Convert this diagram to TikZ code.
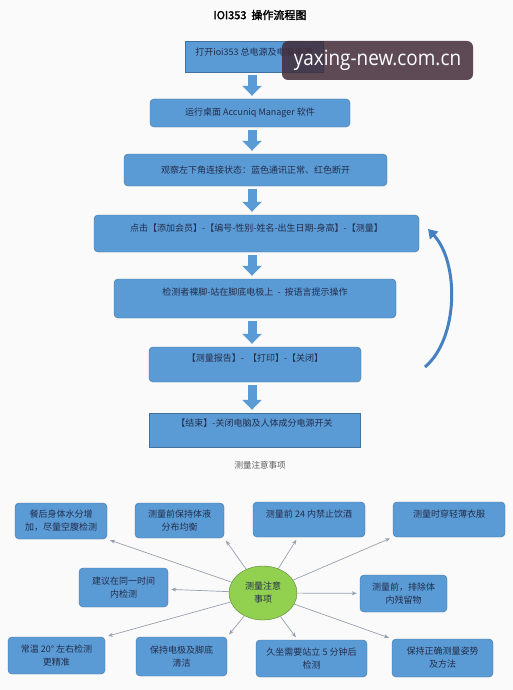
\documentclass[tikz,border=0pt]{standalone}
\usepackage{fontspec}
\setmainfont{Noto Sans CJK SC}[AutoFakeBold=2]
\newfontfamily\wmfont{Open Sans}[FakeStretch=0.9]
\usetikzlibrary{arrows.meta}
\usetikzlibrary{shapes.geometric}

\definecolor{paper}{RGB}{251,250,250}
\definecolor{boxblue}{RGB}{91,155,213}
\definecolor{boxedge}{RGB}{65,113,156}
\definecolor{loopblue}{RGB}{70,130,195}
\definecolor{txtnavy}{RGB}{35,45,75}
\definecolor{notegreen}{RGB}{146,208,80}
\definecolor{greenedge}{RGB}{84,130,53}
\definecolor{linkgray}{RGB}{150,160,175}
\definecolor{wmplum}{RGB}{66,44,56}

\begin{document}
\begin{tikzpicture}[x=1pt, y=-1pt,
  flowbox/.style={draw=boxedge, fill=boxblue, rounded corners=4pt, text=txtnavy, inner sep=2pt,
                  font=\fontsize{9}{12}\selectfont},
  notebox/.style={flowbox, align=center, font=\fontsize{9}{13}\selectfont},
  lift/.style={text depth=#1},
  flowarrow/.style={draw=boxblue, line width=9pt, -{Triangle[width=19pt,length=10pt]},
                    shorten <=3pt, shorten >=3pt},
  loopback/.style={draw=loopblue, line width=3pt, -{Triangle[width=11pt,length=9pt]}},
  notelink/.style={draw=linkgray, line width=0.7pt, -{Stealth[length=5pt,width=4pt]}, shorten >=3pt}]
\path [use as bounding box, fill=paper] (0,0) rectangle (513,690);

% flow chart
\node (title) at (260,15) [font=\fontsize{11}{13}\selectfont\bfseries] {IOI353\ \ 操作流程图};
\node (b1) at (254,56.5) [flowbox, sharp corners, minimum width=138pt, minimum height=31pt, lift=10pt] {打开ioi353 总电源及电脑电源};
\node (b2) at (250,113) [flowbox, minimum width=200pt, minimum height=28pt] {运行桌面 Accuniq Manager 软件};
\node (b3) at (255.5,170) [flowbox, minimum width=263pt, minimum height=32pt] {观察左下角连接状态：蓝色通讯正常、红色断开};
\node (b4) at (256.5,233.5) [flowbox, minimum width=325pt, minimum height=37pt, lift=12pt] {点击【添加会员】-【编号-性别-姓名-出生日期-身高】-【测量】};
\node (b5) at (255,298.5) [flowbox, minimum width=282pt, minimum height=39pt, lift=13pt] {检测者裸脚-站在脚底电极上 \ - \ 按语言提示操作};
\node (b6) at (255,364.5) [flowbox, minimum width=212pt, minimum height=35pt, lift=13pt] {【测量报告】- \ 【打印】-【关闭】};
\node (b7) at (254.5,430) [flowbox, sharp corners, minimum width=211pt, minimum height=34pt, lift=15pt] {【结束】-关闭电脑及人体成分电源开关};

\coordinate (axis) at (252,0);
\foreach \a/\b in {b1/b2,b2/b3,b3/b4,b4/b5,b5/b6,b6/b7}
  \draw [flowarrow] (\a.south -| axis) -- (\b.north -| axis);

\coordinate (loopfrom) at (425,367);
\coordinate (loopto) at (428,229);
\draw [loopback] (loopfrom) .. controls (459,338) and (459,262) .. (loopto);

% notes
\node (notes) at (260,465) [text=black!65, font=\fontsize{8.5}{10}\selectfont] {测量注意事项};
\node (hub) at (263,593) [ellipse, draw=greenedge, fill=notegreen, minimum width=68pt, minimum height=54pt,
  inner sep=0pt, align=center, text=txtnavy, font=\fontsize{9}{13}\selectfont] {测量注意\\事项};

\node (n1) at (61,521) [notebox, minimum width=92pt, minimum height=36pt] {餐后身体水分增\\加，尽量空腹检测};
\node (n2) at (179.5,520.5) [notebox, minimum width=89pt, minimum height=35pt] {测量前保持体液\\分布均衡};
\node (n3) at (309,519.5) [notebox, minimum width=112pt, minimum height=35pt, lift=11pt] {测量前 24 内禁止饮酒};
\node (n4) at (449,519.5) [notebox, minimum width=112pt, minimum height=35pt, lift=11pt] {测量时穿轻薄衣服};
\node (n5) at (123.5,587.5) [notebox, minimum width=89pt, minimum height=39pt] {建议在同一时间\\内检测};
\node (n6) at (403.5,593.5) [notebox, minimum width=87pt, minimum height=37pt] {测量前，排除体\\内残留物};
\node (n7) at (56.5,655.5) [notebox, minimum width=97pt, minimum height=37pt] {常温 20° 左右检测\\更精准};
\node (n8) at (181.5,656.5) [notebox, minimum width=91pt, minimum height=39pt] {保持电极及脚底\\清洁};
\node (n9) at (311.5,658.5) [notebox, minimum width=111pt, minimum height=37pt] {久坐需要站立 5 分钟后\\检测};
\node (n10) at (442.5,658) [notebox, minimum width=101pt, minimum height=38pt] {保持正确测量姿势\\及方法};

\draw [notelink] (hub) -- (n1.south east);
\draw [notelink] (hub) -- (n2.south east);
\draw [notelink] (hub) -- (n3);
\draw [notelink] (hub) -- (n4.south west);
\draw [notelink] (hub) -- (n5);
\draw [notelink] (hub) -- (n6);
\draw [notelink] (hub) -- (n7.north east);
\draw [notelink] (hub) -- (n8.north east);
\draw [notelink] (hub) -- (n9);
\draw [notelink] (hub) -- (n10.north west);

% watermark
\node (wm) at (377.5,60.5) [fill=wmplum, fill opacity=0.85, text opacity=1, text=white, rounded corners=6pt,
  minimum width=191pt, minimum height=39pt, inner sep=0pt, font=\wmfont\fontsize{21}{24}\selectfont] {yaxing-new.com.cn};
\end{tikzpicture}
\end{document}
